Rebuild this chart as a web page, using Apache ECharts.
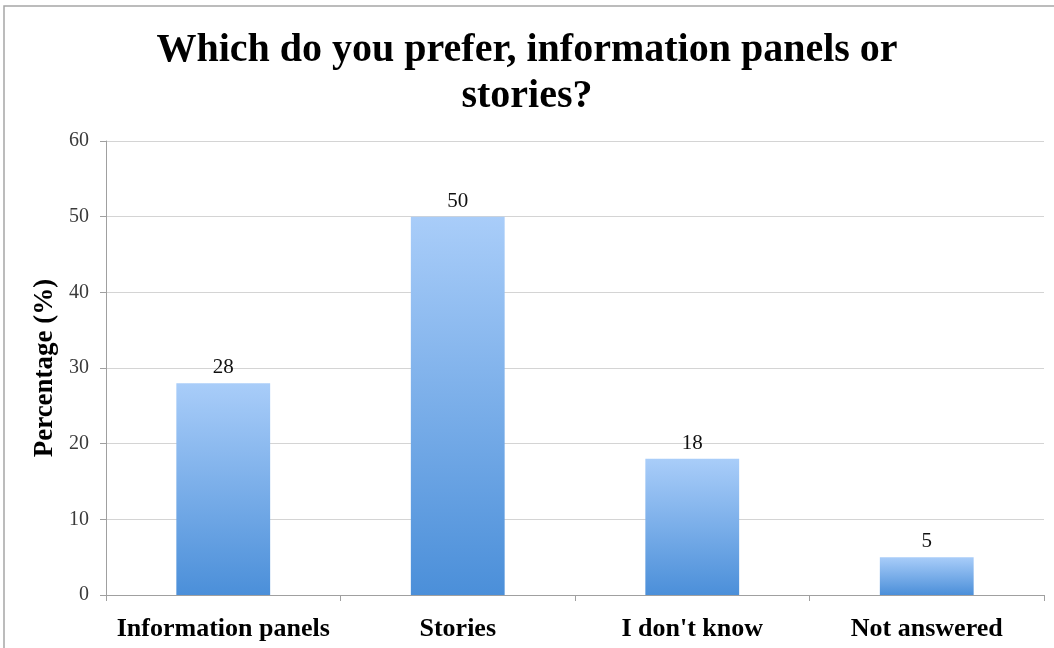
<!DOCTYPE html>
<html>
<head>
<meta charset="utf-8">
<style>
  html, body { margin: 0; padding: 0; background: #ffffff; }
  #chart { width: 1054px; height: 648px; }
</style>
<script src="https://cdn.jsdelivr.net/npm/echarts@6/dist/echarts.min.js"></script>
</head>
<body>
<div id="chart"></div>
<script>
// Survey answers: preference between information panels and stories
const categories = ['Information panels', 'Stories', "I don't know", 'Not answered'];
const percentages = [28, 50, 18, 5];
const yTicks = { min: 0, max: 60, interval: 10 };

const serif = '"Liberation Serif", "DejaVu Serif", serif';

const chart = echarts.init(document.getElementById('chart'), null, { renderer: 'canvas' });

chart.setOption({
  backgroundColor: '#ffffff',
  animation: false,
  graphic: [{
    type: 'rect',
    shape: { x: 4, y: 6, width: 1080, height: 700 },
    style: { fill: 'none', stroke: '#a6a6a6', lineWidth: 1.5 },
    silent: true
  }],
  title: {
    text: 'Which do you prefer, information panels or\nstories?',
    left: 'center',
    top: 23,
    textStyle: {
      fontFamily: serif,
      fontWeight: 'bold',
      fontSize: 40,
      lineHeight: 46,
      color: '#000000'
    }
  },
  grid: { left: 106, right: 10, top: 141, bottom: 53, containLabel: false },
  xAxis: {
    type: 'category',
    data: categories,
    boundaryGap: true,
    axisLine: { lineStyle: { color: '#a0a0a0', width: 1 } },
    axisTick: { show: true, interval: 0, length: 6, lineStyle: { color: '#a0a0a0' } },
    axisLabel: {
      interval: 0,
      margin: 21,
      fontFamily: serif,
      fontWeight: 'bold',
      fontSize: 26,
      color: '#000000'
    },
    splitLine: { show: false }
  },
  yAxis: {
    type: 'value',
    min: yTicks.min,
    max: yTicks.max,
    interval: yTicks.interval,
    name: 'Percentage (%)',
    nameLocation: 'middle',
    nameGap: 34,
    nameRotate: 90,
    nameTextStyle: {
      fontFamily: serif,
      fontWeight: 'bold',
      fontSize: 27,
      color: '#000000'
    },
    axisLine: { show: true, lineStyle: { color: '#a0a0a0', width: 1 } },
    axisTick: { show: true, length: 6, inside: false, lineStyle: { color: '#a0a0a0' } },
    axisLabel: {
      margin: 17,
      fontFamily: serif,
      fontSize: 20,
      color: '#3a3a3a'
    },
    splitLine: { show: true, lineStyle: { color: '#d4d4d4', width: 1 } }
  },
  series: [{
    type: 'bar',
    data: percentages,
    barWidth: '40%',
    itemStyle: {
      color: new echarts.graphic.LinearGradient(0, 0, 0, 1, [
        { offset: 0, color: '#a9cdf9' },
        { offset: 1, color: '#4b8fd9' }
      ])
    },
    label: {
      show: true,
      position: 'top',
      distance: 5,
      fontFamily: serif,
      fontSize: 21,
      color: '#111111'
    }
  }]
});
</script>
</body>
</html>
